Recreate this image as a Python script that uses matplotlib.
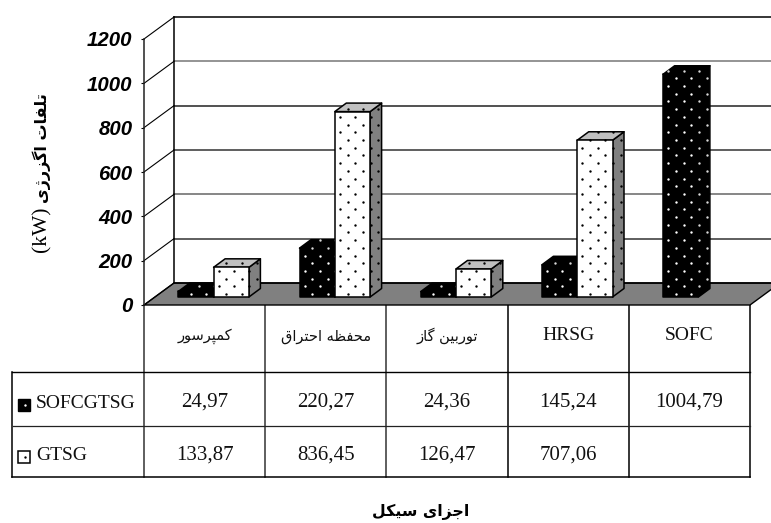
import matplotlib
matplotlib.use('Agg')
import matplotlib.pyplot as plt
from matplotlib.patches import Polygon
from matplotlib.path import Path
import numpy as np

categories = ['کمپرسور', 'محفظه احتراق', 'توربین گاز', 'HRSG', 'SOFC']
series_names = ['SOFCGTSG', 'GTSG']
sofcgtsg = [24.97, 220.27, 24.36, 145.24, 1004.79]
gtsg = [133.87, 836.45, 126.47, 707.06, None]
y_ticks = [0, 200, 400, 600, 800, 1000, 1200]
y_label = 'تلفات اگزرژی'
y_unit = '(kW)'
x_label = 'اجزای سیکل'

# isolated, final, initial, medial (matplotlib does no arabic shaping)
FORMS = {
    'ا': (0xFE8D, 0xFE8E), 'د': (0xFEA9, 0xFEAA), 'ر': (0xFEAD, 0xFEAE),
    'ز': (0xFEAF, 0xFEB0), 'ژ': (0xFB8A, 0xFB8B), 'و': (0xFEED, 0xFEEE),
    'ب': (0xFE8F, 0xFE90, 0xFE91, 0xFE92), 'پ': (0xFB56, 0xFB57, 0xFB58, 0xFB59),
    'ت': (0xFE95, 0xFE96, 0xFE97, 0xFE98), 'ج': (0xFE9D, 0xFE9E, 0xFE9F, 0xFEA0),
    'ح': (0xFEA1, 0xFEA2, 0xFEA3, 0xFEA4), 'س': (0xFEB1, 0xFEB2, 0xFEB3, 0xFEB4),
    'ظ': (0xFEC5, 0xFEC6, 0xFEC7, 0xFEC8), 'ف': (0xFED1, 0xFED2, 0xFED3, 0xFED4),
    'ق': (0xFED5, 0xFED6, 0xFED7, 0xFED8), 'ک': (0xFB8E, 0xFB8F, 0xFB90, 0xFB91),
    'گ': (0xFB92, 0xFB93, 0xFB94, 0xFB95), 'ل': (0xFEDD, 0xFEDE, 0xFEDF, 0xFEE0),
    'م': (0xFEE1, 0xFEE2, 0xFEE3, 0xFEE4), 'ن': (0xFEE5, 0xFEE6, 0xFEE7, 0xFEE8),
    'ه': (0xFEE9, 0xFEEA, 0xFEEB, 0xFEEC), 'ی': (0xFBFC, 0xFBFD, 0xFBFE, 0xFBFF),
}


def shape(text):
    out = []
    for i, c in enumerate(text):
        if c not in FORMS:
            out.append(c)
            continue
        prev = text[i - 1] if i > 0 else ' '
        nxt = text[i + 1] if i < len(text) - 1 else ' '
        joins_prev = prev in FORMS and len(FORMS[prev]) == 4
        joins_next = nxt in FORMS and len(FORMS[c]) == 4
        if joins_prev and joins_next:
            out.append(chr(FORMS[c][3]))
        elif joins_prev:
            out.append(chr(FORMS[c][1]))
        elif joins_next:
            out.append(chr(FORMS[c][2]))
        else:
            out.append(chr(FORMS[c][0]))
    return ''.join(out[::-1])


W, H = 771, 523
LEFT, RIGHT, TOP, BOTTOM = 144, 750, 39, 305
CAT = (RIGHT - LEFT) / 5
UNIT = (BOTTOM - TOP) / 1200
WALL_DX, WALL_DY = 30 / CAT, 22 / UNIT
BAR_W = 35.3 / CAT
SHIFT = 9 / CAT
LIFT = 8 / UNIT
DEPTH_X, DEPTH_Y = 11.5 / CAT, 8.5 / UNIT

fig = plt.figure(figsize=(W / 100, H / 100), dpi=100)

# page axes in pixels for the table grid and the text
page = fig.add_axes([0, 0, 1, 1])
page.set_xlim(0, W)
page.set_ylim(H, 0)
page.axis('off')

ax = fig.add_axes([LEFT / W, 1 - BOTTOM / H, (RIGHT - LEFT) / W, (BOTTOM - TOP) / H])
ax.patch.set_alpha(0)
ax.set_xlim(0, 5)
ax.set_ylim(0, 1200)
for s in ['top', 'right', 'bottom']:
    ax.spines[s].set_visible(False)
ax.spines['left'].set_linewidth(1.1)
ax.spines['left'].set_color('#222222')
ax.set_xticks([])
ax.set_yticks(y_ticks)
ax.tick_params(axis='y', length=2.2, width=0.8, pad=6)
for t in ax.get_yticklabels():
    t.set_family('Liberation Sans')
    t.set_weight('bold')
    t.set_style('italic')
    t.set_fontsize(14.7)

# floor and walls
ax.add_patch(Polygon([(0, 0), (5, 0), (5 + WALL_DX, WALL_DY), (WALL_DX, WALL_DY)],
                     facecolor='#808080', edgecolor='black', lw=1, clip_on=False, zorder=1))
grid_colors = ['black', '#333333', '#666666', '#333333', '#222222', '#777777', 'black']
for v, col in zip(y_ticks, grid_colors):
    ax.plot([WALL_DX, 5 + WALL_DX], [v + WALL_DY, v + WALL_DY], color=col, lw=1.1,
            clip_on=False, zorder=1.5)
    ax.plot([0, WALL_DX], [v, v + WALL_DY], color='black', lw=0.8, clip_on=False, zorder=1.5)
ax.plot([WALL_DX, WALL_DX], [WALL_DY, 1200 + WALL_DY], color='black', lw=1.1,
        clip_on=False, zorder=1.5)


def stipple(pts, color, x0, y0, z):
    # staggered dots like the excel pattern fill
    sx, sy = 15.4 / CAT, 7.7 / UNIT
    pts = np.array(pts)
    rows = np.arange(y0 - sy, pts[:, 1].max() + sy, sy)
    xs, ys = [], []
    for j, r in enumerate(rows):
        cols = np.arange(x0 - sx, pts[:, 0].max() + sx, sx) + (j % 2) * sx / 2
        xs.extend(cols)
        ys.extend([r] * len(cols))
    xy = np.column_stack([xs, ys])
    inside = Path(pts).contains_points(xy)
    ax.scatter(xy[inside, 0], xy[inside, 1], s=3, c=color, linewidths=0,
               clip_on=False, zorder=z + 0.1)


def bar3d(x, value, front, side, top, dot, side_dot, z):
    b, t = LIFT, LIFT + value
    r = x + BAR_W
    faces = [
        ([(r, b), (r + DEPTH_X, b + DEPTH_Y), (r + DEPTH_X, t + DEPTH_Y), (r, t)], side, side_dot),
        ([(x, t), (r, t), (r + DEPTH_X, t + DEPTH_Y), (x + DEPTH_X, t + DEPTH_Y)], top, side_dot),
        ([(x, b), (r, b), (r, t), (x, t)], front, dot),
    ]
    for pts, fc, dc in faces:
        ax.add_patch(Polygon(pts, facecolor=fc, edgecolor='black', lw=1.1,
                             joinstyle='round', clip_on=False, zorder=z))
        stipple(pts, dc, x + 5 / CAT, b + 3 / UNIT, z)


for i in range(5):
    x = i + 0.5 - BAR_W + SHIFT
    bar3d(x, sofcgtsg[i], 'black', 'black', 'black', 'white', '#d8d8d8', 3 + i * 2)
    if gtsg[i] is not None:
        bar3d(x + BAR_W, gtsg[i], 'white', '#808080', '#c0c0c0', 'black', 'black', 4 + i * 2)

# data table
col_x = [LEFT + CAT * i for i in range(6)]
ROW_Y = [305, 372, 426, 477]
for i, cx in enumerate(col_x):
    page.plot([cx, cx], [ROW_Y[0], ROW_Y[3]], color='#333333' if i < 3 else 'black', lw=1.1)
page.plot([11.5, RIGHT], [ROW_Y[1], ROW_Y[1]], color='black', lw=1.0)
page.plot([13, RIGHT], [ROW_Y[2], ROW_Y[2]], color='#222222', lw=0.9)
page.plot([11.5, RIGHT], [ROW_Y[3], ROW_Y[3]], color='black', lw=1.1)
page.plot([11.5, 11.5], [ROW_Y[1], ROW_Y[3]], color='black', lw=1.1)

SERIF = 'Liberation Serif'
for i, name in enumerate(categories):
    cx = LEFT + CAT * (i + 0.5)
    if name.isascii():
        page.text(cx, 335, name, ha='center', va='center', family=SERIF, fontsize=14, color='#111111')
    else:
        page.text(cx, 336, shape(name), ha='center', va='center', family='DejaVu Sans', fontsize=10.5,
                  color='#111111')
    for vals, y in ((sofcgtsg, 402), (gtsg, 455)):
        if vals[i] is not None:
            page.text(cx, y, f'{vals[i]:.2f}'.replace('.', ','), ha='center', va='center',
                      family=SERIF, fontsize=15, color='#111111')

# legend keys
page.add_patch(Polygon([(17.5, 399), (30, 399), (30, 411), (17.5, 411)], facecolor='black',
                       edgecolor='black', lw=1))
page.scatter([25], [405], s=3, c='white', linewidths=0, zorder=5)
page.add_patch(Polygon([(17.5, 451), (30, 451), (30, 463), (17.5, 463)], facecolor='white',
                       edgecolor='black', lw=1.1))
page.scatter([25], [457], s=3, c='black', linewidths=0, zorder=5)
page.text(36, 404, series_names[0], ha='left', va='center', family=SERIF, fontsize=14, color='#111111')
page.text(36, 456, series_names[1], ha='left', va='center', family=SERIF, fontsize=14, color='#111111')

# axis titles
page.text(42, 148, shape(y_label), rotation=90, ha='center', va='center', family='DejaVu Sans',
          weight='bold', fontsize=11.5)
page.text(42, 229, y_unit, rotation=90, ha='center', va='center', family=SERIF, fontsize=15.5)
page.text(421, 512, shape(x_label), ha='center', va='center', family='DejaVu Sans',
          weight='bold', fontsize=11.3)

fig.savefig('out.png', dpi=100)
